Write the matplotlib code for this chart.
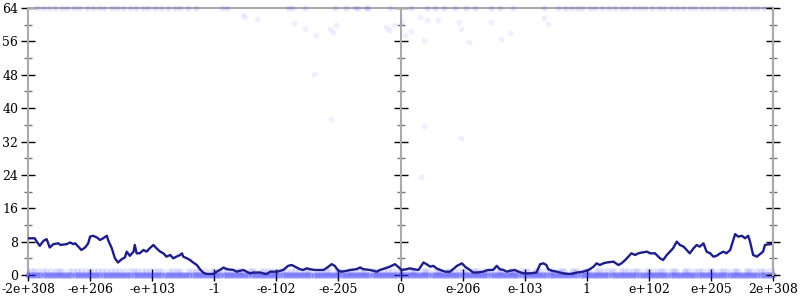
import numpy as np
import matplotlib.pyplot as plt
from matplotlib.ticker import MultipleLocator

plt.rcParams["font.family"] = "DejaVu Serif"
plt.rcParams["font.size"] = 9

# x ticks: evenly spaced positions along the ordered doubles
tick_pos = [-6, -5, -4, -3, -2, -1, 0, 1, 2, 3, 4, 5, 6]
tick_labels = ['-2e+308', '-e+206', '-e+103', '-1', '-e-102', '-e-205', '0',
               'e-206', 'e-103', '1', 'e+102', 'e+205', '2e+308']

# running mean
line_x = [-6.00, -5.97, -5.89, -5.86, -5.81, -5.75, -5.70, -5.65, -5.59, -5.51,
          -5.48, -5.38, -5.32, -5.27, -5.24, -5.19, -5.14, -5.08, -5.03, -5.00,
          -4.95, -4.89, -4.84, -4.79, -4.73, -4.71, -4.65, -4.60, -4.55, -4.49,
          -4.44, -4.41, -4.36, -4.30, -4.28, -4.25, -4.20, -4.14, -4.09, -4.04,
          -3.98, -3.93, -3.87, -3.82, -3.77, -3.71, -3.66, -3.61, -3.55, -3.52,
          -3.50, -3.44, -3.39, -3.34, -3.28, -3.23, -3.18, -3.12, -3.02, -2.96,
          -2.91, -2.85, -2.80, -2.69, -2.64, -2.59, -2.53, -2.48, -2.42, -2.37,
          -2.26, -2.16,
          -2.10, -1.99, -1.89, -1.81, -1.75, -1.70, -1.62, -1.57, -1.51, -1.46,
          -1.38, -1.24, -1.16, -1.11, -1.06, -1.00, -0.95, -0.87, -0.81, -0.71,
          -0.65, -0.60, -0.49, -0.38, -0.33, -0.25, -0.17, -0.09, -0.04, 0.02,
          0.10, 0.15, 0.21, 0.29, 0.37, 0.42, 0.48, 0.53, 0.58, 0.64,
          0.72, 0.80, 0.91, 0.99, 1.04, 1.12, 1.17, 1.23, 1.33, 1.41,
          1.49, 1.55, 1.60, 1.66, 1.71, 1.76, 1.84, 1.90, 1.98, 2.09,
          2.19,
          2.25, 2.30, 2.35, 2.38, 2.44, 2.52, 2.62, 2.73, 2.84, 2.94,
          3.03, 3.11, 3.16, 3.21, 3.27, 3.32, 3.43, 3.51, 3.56, 3.62,
          3.67, 3.72, 3.78, 3.83, 3.89, 3.97, 4.02, 4.10, 4.18, 4.23,
          4.29, 4.34, 4.39, 4.45, 4.50, 4.56, 4.61, 4.66, 4.72, 4.77,
          4.82, 4.88, 4.93, 4.99, 5.04, 5.09, 5.15, 5.20, 5.25, 5.31,
          5.36, 5.39, 5.44, 5.50, 5.55, 5.60, 5.63, 5.68, 5.74, 5.79,
          5.84, 5.87, 5.95, 6.00]
line_y = [8.8, 8.8, 8.8, 8.0, 7.0, 8.2, 8.6, 6.6, 7.4, 7.6,
          7.2, 7.4, 7.8, 7.4, 7.6, 6.8, 6.0, 6.6, 7.6, 9.2,
          9.4, 9.0, 8.4, 8.8, 9.4, 8.4, 6.4, 4.0, 3.0, 3.8,
          4.2, 5.6, 4.6, 5.6, 7.2, 5.2, 5.2, 6.0, 5.6, 6.4,
          7.2, 6.4, 5.6, 5.2, 4.4, 4.8, 4.0, 4.4, 4.8, 5.2,
          4.4, 4.0, 3.6, 3.0, 2.4, 1.4, 0.6, 0.2, 0.2, 0.8,
          1.2, 1.8, 1.4, 1.2, 0.8, 1.0, 1.2, 0.8, 0.4, 0.6,
          0.6, 0.2,
          0.8, 0.8, 1.2, 2.2, 2.4, 2.0, 1.4, 1.2, 1.6, 1.4,
          1.2, 1.2, 2.0, 2.6, 2.2, 1.0, 0.8, 1.0, 1.2, 1.4,
          1.8, 1.4, 1.2, 0.8, 1.2, 1.6, 2.0, 2.6, 2.0, 1.2,
          1.4, 1.6, 1.4, 1.2, 3.0, 2.6, 2.0, 2.2, 1.6, 1.2,
          0.8, 0.8, 2.2, 2.8, 2.0, 1.2, 0.6, 0.6, 0.8, 1.2,
          1.2, 2.2, 1.4, 1.2, 0.8, 1.0, 1.2, 0.8, 0.4, 0.4,
          0.6,
          2.6, 2.8, 2.4, 1.4, 1.0, 0.8, 0.4, 0.2, 0.6, 0.8,
          1.2, 2.0, 2.8, 2.4, 2.8, 3.0, 3.2, 2.4, 2.8, 3.6,
          4.4, 5.2, 4.8, 5.2, 5.4, 5.6, 5.2, 5.2, 4.0, 3.6,
          4.8, 5.6, 6.4, 8.0, 7.2, 6.8, 6.0, 5.2, 6.4, 7.2,
          6.8, 7.6, 5.6, 5.2, 4.4, 4.6, 5.2, 5.6, 5.2, 6.0,
          8.4, 9.8, 9.2, 9.4, 8.8, 9.4, 8.0, 4.8, 4.4, 5.0,
          5.6, 7.2, 7.4, 7.4]

# samples with value 0
zero_x = [-6.0, -5.9, -5.8, -5.7, -5.6, -5.5, -5.4, -5.3, -5.2, -5.1,
          -5.0, -4.9, -4.8, -4.7, -4.6, -4.5, -4.4, -4.3, -4.2, -4.1,
          -4.0, -3.9, -3.8, -3.7, -3.6, -3.5, -3.4, -3.3, -3.2, -3.1,
          -3.0, -2.9, -2.8, -2.7, -2.6, -2.5, -2.4, -2.3, -2.2, -2.1,
          -2.0, -1.9, -1.8, -1.7, -1.6, -1.5, -1.4, -1.3, -1.2, -1.1,
          -1.0, -0.9, -0.8, -0.7, -0.6, -0.5, -0.4, -0.3, -0.2, -0.1,
          0.0, 0.1, 0.2, 0.3, 0.4, 0.5, 0.6, 0.7, 0.8, 0.9,
          1.0, 1.1, 1.2, 1.3, 1.4, 1.5, 1.6, 1.7, 1.8, 1.9,
          2.0, 2.1, 2.2, 2.3, 2.4, 2.5, 2.6, 2.7, 2.8, 2.9,
          3.0, 3.1, 3.2, 3.3, 3.4, 3.5, 3.6, 3.7, 3.8, 3.9,
          4.0, 4.1, 4.2, 4.3, 4.4, 4.5, 4.6, 4.7, 4.8, 4.9,
          5.0, 5.1, 5.2, 5.3, 5.4, 5.5, 5.6, 5.7, 5.8, 5.9, 6.0,
          -5.95, -5.85, -5.75, -5.65, -5.55, -5.45, -5.35, -5.25, -5.15, -5.05,
          -4.95, -4.85, -4.75, -4.65, -4.55, -4.45, -4.35, -4.25, -4.15, -4.05,
          -3.95, -3.85, -3.75, -3.65, -3.55, -3.45, -3.35, -3.25, -3.15, -3.05,
          -2.95, -2.85, -2.75, -2.65, -2.55, -2.45, -2.35, -2.25, -2.15, -2.05,
          -1.95, -1.85, -1.75, -1.65, -1.55, -1.45, -1.35, -1.25, -1.15, -1.05,
          -0.95, -0.85, -0.75, -0.65, -0.55, -0.45, -0.35, -0.25, -0.15, -0.05,
          0.05, 0.15, 0.25, 0.35, 0.45, 0.55, 0.65, 0.75, 0.85, 0.95,
          1.05, 1.15, 1.25, 1.35, 1.45, 1.55, 1.65, 1.75, 1.85, 1.95,
          2.05, 2.15, 2.25, 2.35, 2.45, 2.55, 2.65, 2.75, 2.85, 2.95,
          3.05, 3.15, 3.25, 3.35, 3.45, 3.55, 3.65, 3.75, 3.85, 3.95,
          4.05, 4.15, 4.25, 4.35, 4.45, 4.55, 4.65, 4.75, 4.85, 4.95,
          5.05, 5.15, 5.25, 5.35, 5.45, 5.55, 5.65, 5.75, 5.85, 5.95]

# samples with value 1
one_x = [-5.95, -5.84, -5.76, -5.63, -5.55, -5.46, -5.34, -5.27, -5.15, -5.06,
         -4.94, -4.87, -4.75, -4.66, -4.53, -4.46, -4.35, -4.24, -4.16, -4.03,
         -3.95, -3.84, -3.73, -3.66, -3.55, -3.43, -3.36, -3.24, -3.15, -3.05,
         -2.94, -2.86, -2.73, -2.65, -2.55, -2.44, -2.36, -2.25, -2.13, -2.06,
         -1.95, -1.84, -1.76, -1.64, -1.55, -1.45, -1.34, -1.26, -1.15, -1.04,
         -0.96, -0.85, -0.74, -0.65, -0.56, -0.44, -0.35, -0.26, -0.14, -0.05,
         0.06, 0.15, 0.24, 0.36, 0.45, 0.56, 0.64, 0.75, 0.86, 0.94,
         1.05, 1.16, 1.25, 1.34, 1.46, 1.55, 1.64, 1.76, 1.85, 1.94,
         2.05, 2.16, 2.24, 2.35, 2.46, 2.55, 2.64, 2.76, 2.85, 2.95,
         3.04, 3.15, 3.26, 3.35, 3.44, 3.55, 3.66, 3.75, 3.84, 3.95,
         4.06, 4.15, 4.24, 4.35, 4.44, 4.56, 4.65, 4.74, 4.86, 4.95,
         5.04, 5.15, 5.26, 5.35, 5.44, 5.56, 5.65, 5.74, 5.85, 5.95,
         -5.90, -5.71, -5.50, -5.21, -5.00, -4.81, -4.60, -4.30, -4.10, -3.90,
         -3.60, -3.30, -3.00, -2.80, -2.60, -2.40, -2.20, -1.90, -1.70, -1.50,
         -1.20, -1.00, -0.80, -0.60, -0.40, -0.20, 0.00, 0.20, 0.40, 0.60,
         0.80, 1.00, 1.20, 1.40, 1.60, 1.80, 2.00, 2.20, 2.40, 2.60,
         2.80, 3.00, 3.20, 3.40, 3.60, 3.80, 4.00, 4.20, 4.40, 4.60,
         4.80, 5.00, 5.20, 5.40, 5.60, 5.80]

# samples with value 64
top_x = [-5.85, -5.76, -5.66, -5.57, -5.45, -5.37, -5.26, -5.18, -5.05, -4.96,
         -4.86, -4.77, -4.65, -4.56, -4.47, -4.35, -4.26, -4.15, -4.06, -3.96,
         -3.86, -3.75, -3.64, -3.55, -3.43, -3.30, -2.88, -2.80, -1.81, -1.75,
         -1.54, -1.06, -0.88, -0.73, -0.68, -0.56, -0.52, -0.17, 0.17, 0.43,
         0.56, 0.70, 0.88, 1.06, 1.20, 1.46, 1.60, 1.81, 2.31, 2.54,
         2.65, 2.75, 2.85, 2.93, 3.05, 3.14, 3.25, 3.36, 3.45, 3.56,
         3.65, 3.76, 3.85, 3.94, 4.05, 4.16, 4.25, 4.36, 4.45, 4.55,
         4.66, 4.75, 4.86, 4.95, 5.05, 5.16, 5.25, 5.35, 5.46, 5.55,
         5.66, 5.75, 5.86, 5.96]

# scattered samples in between
mid_x = [-2.54, -2.50, -2.31, -1.72, -1.54, -1.36, -1.14, -1.09, -1.04, -1.39,
         -1.12, -0.23, -0.19, -0.10, 0.02, 0.07, 0.17, 0.31, 0.43, 0.38,
         0.60, 0.94, 0.98, 1.10, 1.46, 1.62, 1.76, 2.31, 2.38, 0.38,
         0.98, 0.33]
mid_y = [62.3, 61.8, 61.4, 60.4, 59.0, 57.5, 59.0, 58.2, 59.9, 48.2,
         37.4, 59.4, 58.7, 59.9, 60.6, 57.5, 58.5, 61.8, 61.1, 56.3,
         61.1, 60.6, 59.0, 55.8, 60.6, 56.6, 58.0, 61.6, 60.2, 35.7,
         32.8, 23.5]

pt_color = '#2a2aff'
line_color = '#1e1e8a'
spine_color = '#aaaaaa'

fig = plt.figure(figsize=(8, 3), dpi=100)
ax = fig.add_axes([0.035, 0.0833, 0.93125, 0.89])

ax.scatter(zero_x, [0] * len(zero_x), s=22, color=pt_color, alpha=0.35,
           linewidths=0, clip_on=False, zorder=3)
ax.scatter(one_x, [1] * len(one_x), s=22, color=pt_color, alpha=0.12,
           linewidths=0, clip_on=False, zorder=3)
ax.scatter(top_x, [64] * len(top_x), s=18, color=pt_color, alpha=0.12,
           linewidths=0, clip_on=False, zorder=3)
ax.scatter(mid_x, mid_y, s=18, color=pt_color, alpha=0.07,
           linewidths=0, clip_on=False, zorder=3)
ax.plot(line_x, line_y, color=line_color, lw=1.7, zorder=5)

ax.set_xlim(-6, 6)
ax.set_ylim(0, 64)
ax.set_xticks(tick_pos)
ax.set_xticklabels(tick_labels)
ax.yaxis.set_major_locator(MultipleLocator(8))
ax.yaxis.set_minor_locator(MultipleLocator(4))

for side in ['left', 'right', 'top', 'bottom']:
    ax.spines[side].set_color(spine_color)
    ax.spines[side].set_linewidth(1.5)
ax.spines['bottom'].set_visible(False)

ax.tick_params(axis='x', direction='inout', length=8, width=1, color='black', pad=2)
ax.tick_params(axis='y', which='major', direction='inout', length=10, width=1,
               color='black', pad=2)
ax.tick_params(axis='y', which='minor', direction='inout', length=6, width=1,
               color='#777777')

# center and right y axes with ticks only
for pos in [0.0, 6.0]:
    tw = ax.twinx()
    tw.set_ylim(0, 64)
    tw.yaxis.set_major_locator(MultipleLocator(8))
    tw.yaxis.set_minor_locator(MultipleLocator(4))
    for side in ['left', 'top', 'bottom']:
        tw.spines[side].set_visible(False)
    tw.spines['right'].set_position(('data', pos))
    tw.spines['right'].set_color(spine_color)
    tw.spines['right'].set_linewidth(1.5)
    tw.tick_params(axis='y', which='major', direction='inout', length=10, width=1,
                   color='black', labelright=False)
    tw.tick_params(axis='y', which='minor', direction='inout', length=6, width=1,
                   color='#777777')
    if pos == 0.0:
        tw.set_zorder(ax.get_zorder() - 1)

ax.patch.set_visible(False)

fig.savefig('out.png', dpi=100)
